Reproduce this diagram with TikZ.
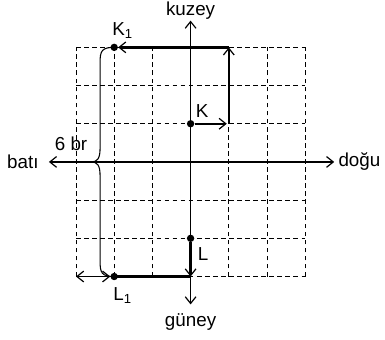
\documentclass[tikz,border=0pt]{standalone}
\usepackage{fontspec}
\setmainfont{Liberation Sans}
\usetikzlibrary{arrows.meta}
\begin{document}
\begin{tikzpicture}[x=1cm,y=1cm,
  gridline/.style={dash pattern=on 3.5pt off 2.5pt, line width=0.6pt},
  axis/.style={line width=0.9pt, {Straight Barb[length=5pt,width=8pt]}-{Straight Barb[length=5pt,width=8pt]}},
  route/.style={line width=1.8pt},
  tip/.style={-{Straight Barb[length=5pt,width=8pt,line width=0.9pt]}},
  dot/.style={circle, fill, inner sep=0pt, minimum size=5.5pt},
  lbl/.style={font=\fontsize{14}{16}\selectfont, inner sep=1pt}]
\useasboundingbox (-4.99,-4.66) rectangle (5.09,4.24);
% grid
\draw[gridline] (-3,-3) grid (3,3);
% axes
\coordinate (W) at (-3.71,0);
\coordinate (E) at (3.76,0);
\coordinate (N) at (0,3.70);
\coordinate (S) at (0,-3.73);
\draw[axis] (W) -- (E);
\draw[axis] (S) -- (N);
% points
\node[dot] (K) at (0,1) {};
\node[dot] (K1) at (-2,3) {};
\node[dot] (L) at (0,-2) {};
\node[dot] (L1) at (-2,-3) {};
\coordinate (a) at (1,1);
\coordinate (b) at (1,3);
\coordinate (c) at (0,-3);
\coordinate (d) at (-3,-3);
% K route
\draw[route,tip,shorten >=1.5pt] (K) -- (a);
\draw[route,tip] (a) -- (b);
\draw[route,tip] (b) -- (K1);
% L route
\draw[route,tip] (L) -- (c);
\draw[route] (c) -- (L1.center);
\draw[line width=0.9pt,{Straight Barb[length=5pt,width=8pt]}-{Straight Barb[length=5pt,width=8pt]}] (d) -- (L1);
% brace
\draw[line width=0.8pt] (K1.center) .. controls (-2.33,3) and (-2.37,2.9) .. (-2.37,2.6)
  -- (-2.37,0.35) .. controls (-2.37,0.08) and (-2.45,0) .. (-2.6,0)
  .. controls (-2.45,0) and (-2.37,-0.08) .. (-2.37,-0.35)
  -- (-2.37,-2.6) .. controls (-2.37,-2.9) and (-2.33,-3) .. (L1.center);
% labels
\node[lbl] (nk) at (0,3.97) {kuzey};
\node[lbl] (ng) at (0,-4.18) {güney};
\node[lbl] (nb) at (-4.39,0) {batı};
\node[lbl] (nd) at (4.42,0) {doğu};
\node[lbl] (lK) at (0.3,1.33) {K};
\node[lbl] (lK1) at (-1.78,3.45) {K\textsubscript{1}};
\node[lbl] (lL) at (0.33,-2.42) {L};
\node[lbl] (lL1) at (-1.78,-3.5) {L\textsubscript{1}};
\node[lbl] (br) at (-3.13,0.47) {6 br};
\end{tikzpicture}
\end{document}
